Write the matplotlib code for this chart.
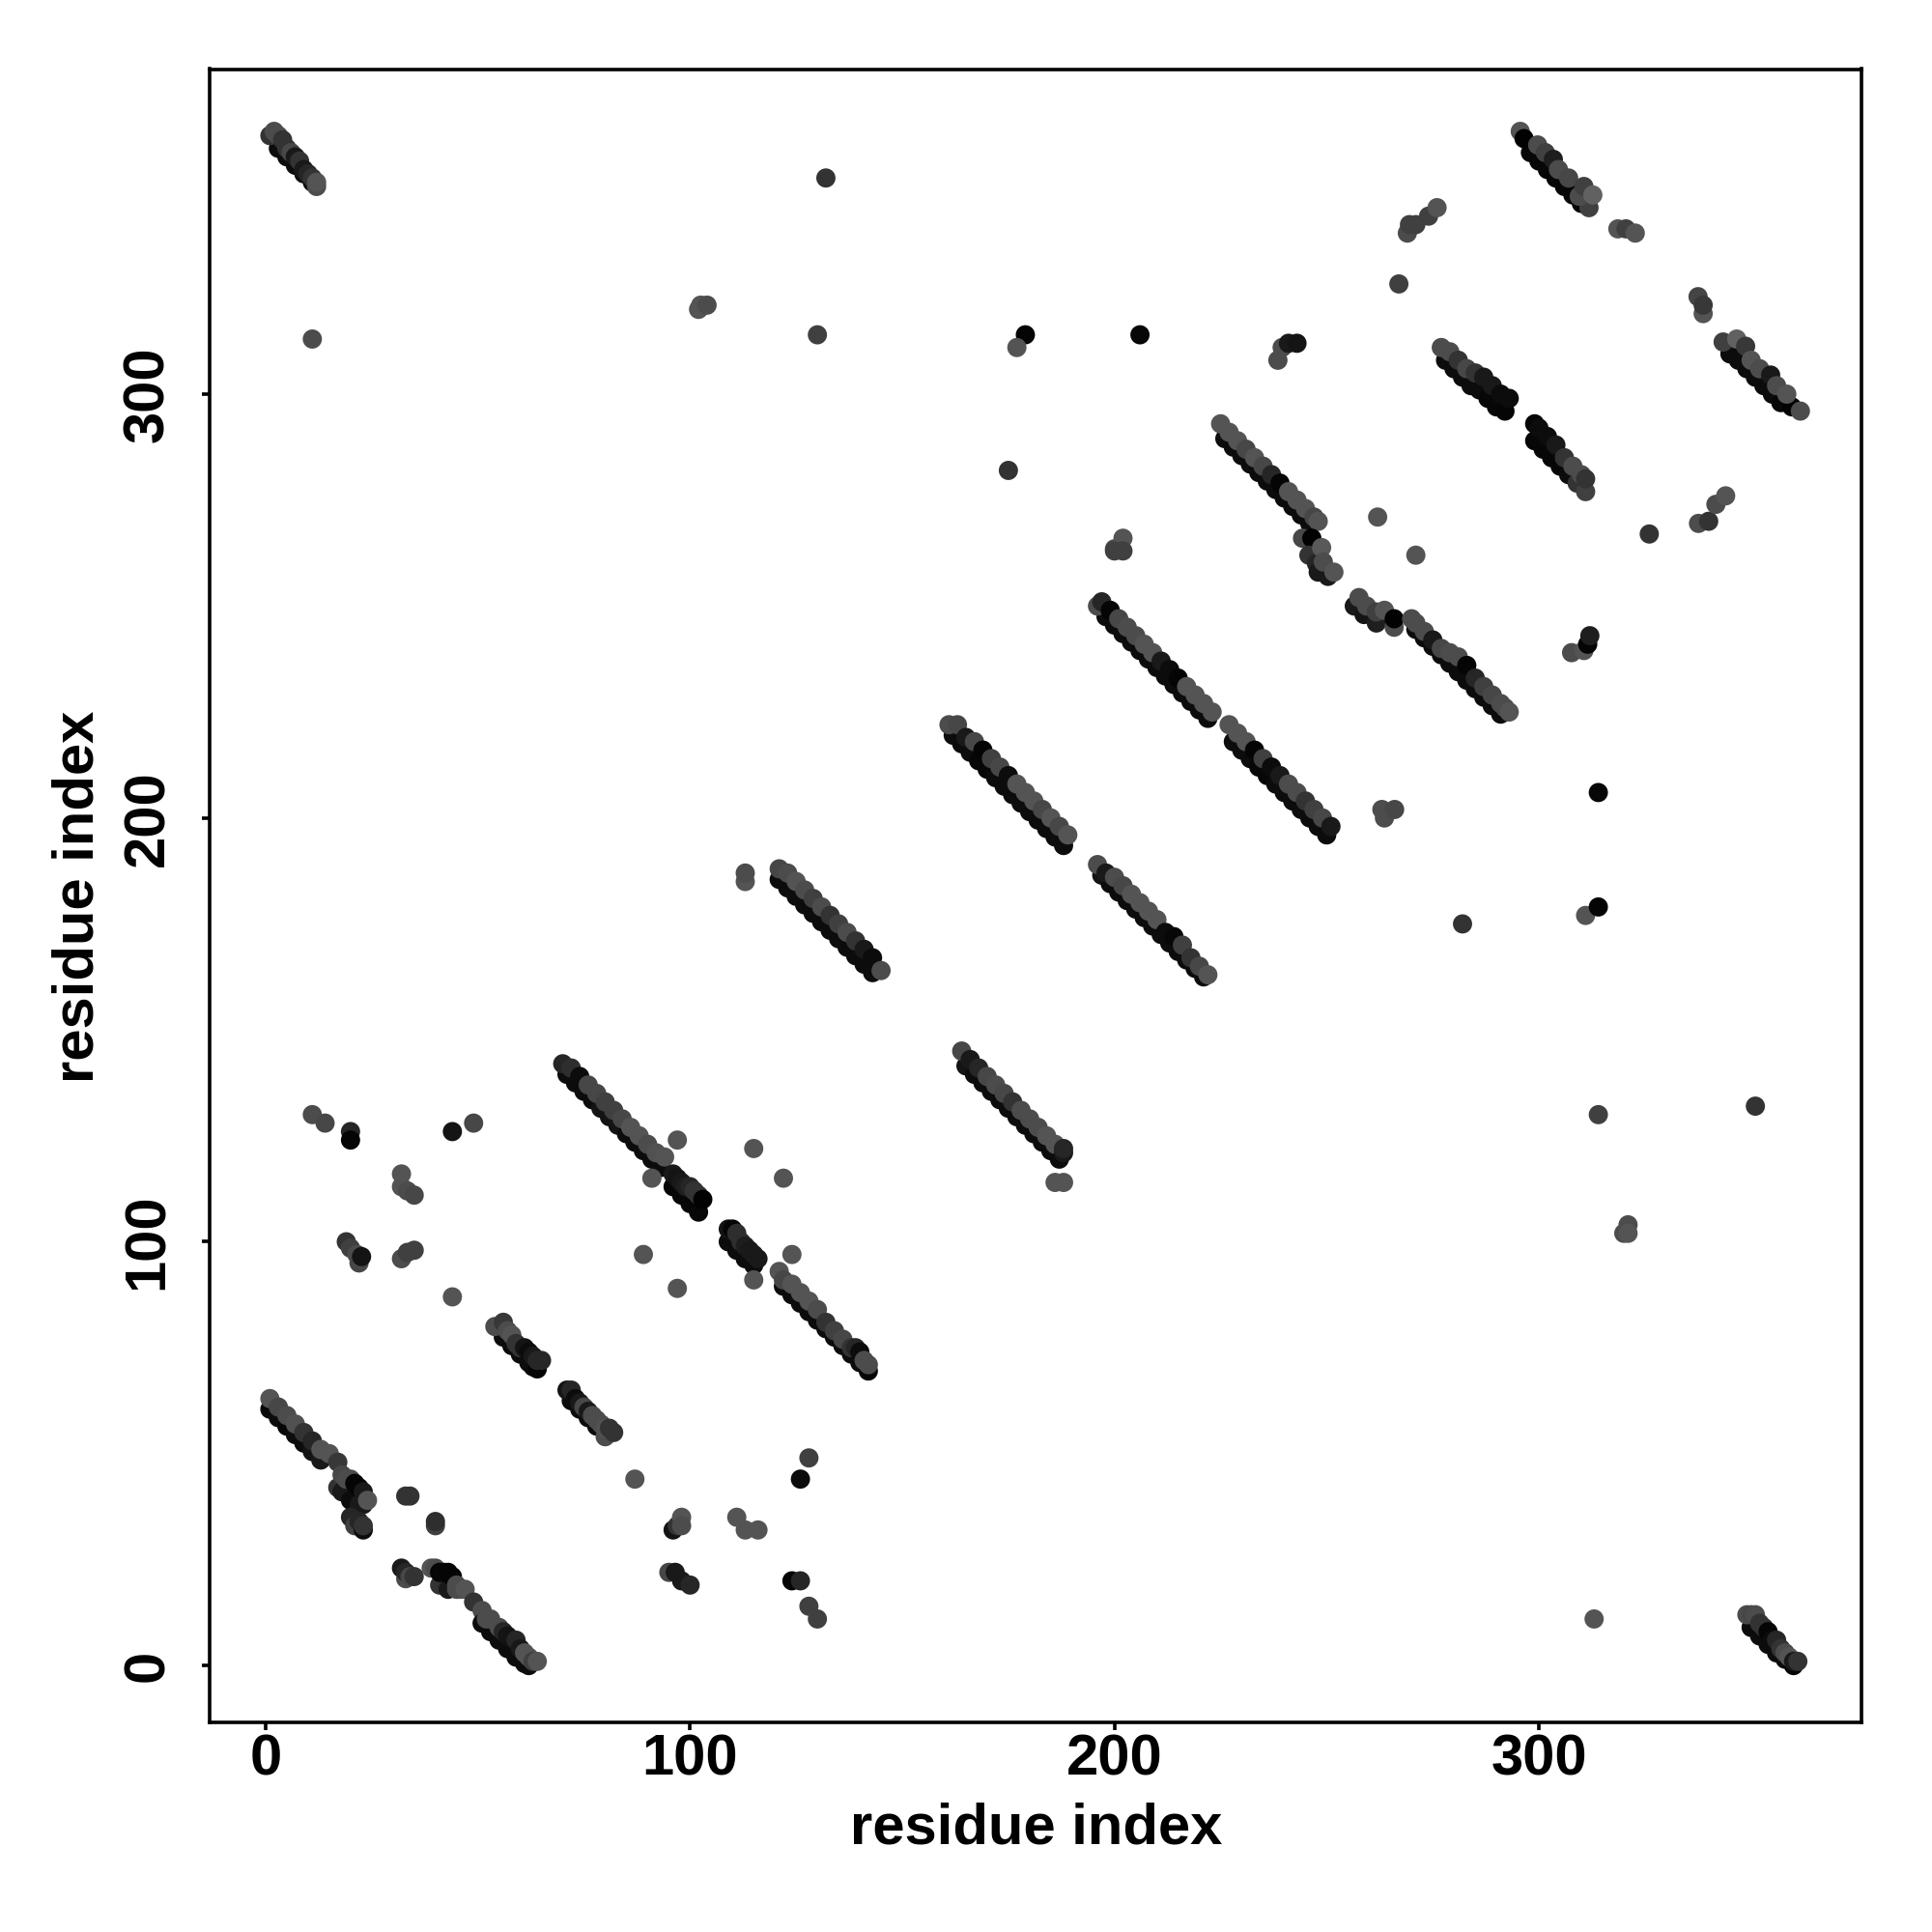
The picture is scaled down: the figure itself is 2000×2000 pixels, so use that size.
import matplotlib
matplotlib.use("Agg")
import matplotlib.pyplot as plt

# ---- tick labels / text
ticks = [0, 100, 200, 300]
xlabel_text = "residue index"
ylabel_text = "residue index"

# ---- contact bands: x, y, grey level (0 black), in drawing order
a1_x = [1,3,5,7,9,11,13, 1,3,5,7,9,11,13,15,17]
a1_y = [60.5,58.5,56.5,54.5,52.5,50.5,48.5, 63,61,59,57,55,53,51,50,48]
a1_g = [.03,.05,.03,.05,.05,.08,.1, .33,.28,.3,.32,.2,.15,.33,.33,.22]

a2_x = [17,18,19,20,21,22,23, 18,19,20,21,22,23,24]
a2_y = [42,41,41,39,38,38,38, 45,44,44,43,42,41,39]
a2_g = [.2,.1,.1,.05,.05,.1,.1, .28,.3,.3,.02,.02,.1,.33]

a3_x = [20,21,22,23,23,33,34,40,40]
a3_y = [35,33,34,32,33,40,40,33,34]
a3_g = [.15,.25,.15,.05,.2,.2,.2,.25,.18]

a4_x = [32,33,33,34,35]
a4_y = [23,20.5,22,21,21]
a4_g = [.1,.3,.15,.28,.2]

a5_x = [41,43,45, 39,40,41,42,43,44,45,46,47,49,51]
a5_y = [19,18,18, 23,23,22,22,22,21,19,18,18,15,13]
a5_g = [.2,.1,.3, .33,.3,.02,.03,.02,.02,.3,.3,.33,.2,.3]

a6_x = [51,53,55,57,59,61,62, 52,53,55,56,57,59,60,61,62,63,64]
a6_y = [10,8,6,4,2,0.5,0, 11,11,9,8,7,6,4,3,2,1,1]
a6_g = [.05,.05,.05,.05,.05,.05,.05, .3,.3,.3,.15,.08,.15,.1,.33,.33,.25,.33]

b_x = [56,58,60,62,63,64, 54,56,57,58,59,60,61,62,63,64,65]
b_y = [77.5,75.5,73.5,71.5,70.5,70, 80,81,79,78,76,75,75,74,73,72,72]
b_g = [.05,.05,.05,.05,.05,.02, .3,.22,.3,.33,.2,.2,.08,.05,.1,.15,.15]

c_x = [72,74,76,78,80, 71,72,73,74,75,76,77,78,79,80,81,82]
c_y = [62.5,60.5,58.5,56.5,54, 65,65,63,62,61,60,59,58,57,56,56,55]
c_g = [.05,.05,.05,.05,.3, .08,.15,.05,.1,.28,.1,.3,.3,.3,.32,.2,.2]

d_x = [71,73,75,77,79,81,83,85,87,89,91,93, 70,72,74,76,78,80,82,84,86,88,90,92,94]
d_y = [139.5,137.5,135.5,133.5,131.5,129.5,127.5,125.5,123.5,121.5,119.5,117.5, 142,141,139,137,135,133,131,129,127,125,123,121,120]
d_g = [.05,.05,.05,.05,.08,.08,.08,.05,.05,.05,.05,.05, .15,.18,.05,.28,.28,.25,.25,.28,.33,.33,.3,.32,.33]

e_x = [96,98,100,102, 96,97,98,99,100,101,102,103]
e_y = [113,111,109,107, 116,115,114,113,113,112,111,110]
e_g = [.03,.03,.03,.03, .1,.08,.1,.12,.15,.2,.2,.01]

f_x = [109,111,113,115, 109,110,111,112,113,114,115,116]
f_y = [100,98,96,94.5, 103,103,102,100,99,98,97,96]
f_g = [.05,.05,.05,.05, .08,.02,.18,.18,.12,.1,.1,.1]

g_x = [122,124,126,128,130,132,134,136,138,140,142, 121,122,124,126,128,130,132,134,136,138,139,140,141,142]
g_y = [89.5,87.5,85.5,83.5,81.5,79.5,77.5,75.5,73.5,71.5,69.5, 93,91,90,88,86,84,81,79,77,75,75,74,72,71]
g_g = [.05,.05,.05,.05,.05,.05,.05,.05,.05,.05,.03, .33,.28,.33,.33,.33,.3,.2,.25,.28,.2,.15,.05,.3,.3]

h_x = [121,123,125,127,129,131,133,135,137,139,141,143, 121,123,125,127,129,131,133,135,137,139,141,143,145, 113,113]
h_y = [185.5,183.5,181.5,179.5,177.5,175.5,173.5,171.5,169.5,167.5,165.5,163.5, 188,187,185,183,181,179,177,175,173,171,169,167,164, 185,187]
h_g = [.05,.05,.05,.05,.05,.05,.05,.05,.05,.05,.05,.05, .28,.3,.33,.3,.25,.3,.2,.25,.3,.2,.1,.05,.3, .33,.3]

i_x = [165,167,169,171,173,175,177,179,181,183,185,187, 164,166,168,170,172,174,176,178,180,182,184,186,188,188, 186,188]
i_y = [141.5,139.5,137.5,135.5,133.5,131.5,129.5,127.5,125.5,123.5,121.5,119.5, 145,143,141,139,137,135,133,131,129,127,125,123,121,122, 114,114]
i_g = [.08,.05,.05,.05,.05,.05,.05,.05,.05,.05,.05,.05, .28,.1,.15,.28,.3,.28,.2,.3,.3,.3,.33,.33,.1,.15, .33,.33]

j_x = [162,164,166,168,170,172,174,176,178,180,182,184,186,188, 161,163,165,167,169,171,173,175,177,179,181,183,185,187,189]
j_y = [219.5,217.5,215.5,213.5,211.5,209.5,207.5,205.5,203.5,201.5,199.5,197.5,195.5,193.5, 222,222,219,218,216,214,212,210,208,206,204,202,200,198,196]
j_g = [.05,.05,.05,.03,.03,.05,.05,.05,.05,.05,.05,.05,.05,.05, .3,.28,.1,.28,.02,.25,.28,.05,.33,.33,.33,.28,.33,.28,.33]

k_x = [197,199,201,203,205,207,209,211,213,215,217,219,221, 196,198,200,202,204,206,208,210,212,214,216,218,220,222]
k_y = [186.5,184.5,182.5,180.5,178.5,176.5,174.5,172.5,170.5,168.5,166.5,164.5,162.5, 189,187,186,184,182,180,178,176,173,172,170,167,165,163]
k_g = [.08,.05,.05,.05,.05,.05,.05,.05,.05,.05,.05,.05,.05, .3,.1,.3,.28,.33,.33,.33,.33,.05,.03,.25,.2,.28,.33]

l_x = [198,200,202,204,206,208,210,212,214,216,218,220,222, 196,197,199,201,203,205,207,209,211,213,215,217,219,221,223]
l_y = [247.5,245.5,243.5,241.5,239.5,237.5,235.5,233.5,231.5,229.5,227.5,225.5,223.5, 250,251,249,247,245,243,241,239,237,235,233,231,229,227,225]
l_g = [.05,.05,.05,.05,.05,.05,.05,.05,.05,.05,.05,.05,.05, .3,.15,.02,.28,.3,.3,.33,.33,.1,.05,.02,.33,.33,.33,.33]

m_x = [228,230,232,234,236,238,240,242,244,246,248,250, 227,229,231,233,235,237,239,241,243,245,247,249,251]
m_y = [218,216,214,212,210,208,206,204,202,200,198,196, 222,220,218,216,214,212,210,208,206,204,202,200,198]
m_g = [.05,.05,.05,.03,.03,.05,.05,.05,.05,.05,.05,.05, .33,.33,.33,.02,.25,.05,.1,.3,.3,.2,.25,.28,.1]

n_x = [226,228,230,232,234,236,238,240,242,244,246, 225,227,229,231,233,235,237,239,241,243,245,247,248]
n_y = [289.5,287.5,285.5,283.5,281.5,279.5,277.5,275.5,273.5,271.5,269.5, 293,291,289,287,285,283,281,279,277,275,273,271,270]
n_g = [.05,.05,.05,.05,.05,.05,.05,.05,.05,.05,.05, .33,.33,.33,.28,.33,.28,.15,.02,.33,.33,.33,.28,.33]

n2_x = [244.3,246.5,245.8,247.6,250.3,248,248.8,249.2,251.7]
n2_y = [266,266,262,260,257,258,263.8,260.4,258]
n2_g = [.28,.01,.2,.15,.1,.1,.35,.3,.33]

o1_x = [256.5,258.8,257.6,259.4,261.7,261.7,263.6,265.9,265.9]
o1_y = [250,248,252,250,246,248.6,249,245,247]
o1_g = [.1,.08,.3,.3,.12,.25,.33,.3,.01]

o2_x = [271,273,275,277,279,281,283,285,287,289,291, 270,271,273,275,277,279,281,283,285,287,289,291,292,293]
o2_y = [244.5,242.5,240.5,238.5,236.5,234.5,232.5,230.5,228.5,226.5,224.5, 247,246,244,242,240,239,238,236,233,231,229,227,226,225]
o2_g = [.05,.05,.05,.05,.05,.05,.05,.05,.05,.05,.05, .3,.3,.3,.1,.28,.3,.3,.02,.15,.25,.28,.3,.3,.33]

p1_x = [278,280,282,284,286,288,290,292, 277,279,281,283,285,287,289,291,293]
p1_y = [308,306,304,302,301,299,297,296, 311,310,308,306,305,304,302,300,299]
p1_g = [.05,.05,.05,.05,.05,.03,.03,.02, .3,.3,.2,.28,.2,.1,.1,.05,.05]

p2_x = [299,301,303,305,307,309,311, 299,300,302,304,306,308,310,311]
p2_y = [289,287,285,283,281,279,277, 293,292,290,288,285,283,281,280]
p2_g = [.03,.03,.03,.03,.05,.2,.25, .02,.05,.05,.1,.2,.3,.3,.2]

q_x = [298,300,302,304,306,308,310,311.8, 295.6,296.5,299.7,301.5,303.4,304.6,307,309.5,310.6,312.7, 318.6,320.5,322.7]
q_y = [357,355,353,351,349,347,345,344, 362,360.3,358.8,357,355.4,353,351,346.7,349,347, 339,339,338]
q_g = [.03,.03,.03,.03,.03,.03,.03,.25, .33,.01,.3,.25,.12,.3,.28,.3,.25,.38, .33,.25,.33]

r_x = [345,347,349,351,353,355,357,359.6, 343.4,346.6,348.7,350,352,354.6,356,358.4,361.6]
r_y = [309.5,308,306,304,302,300,298,297, 312.3,313,311.3,308,306,304.5,302,300,296]
r_g = [.05,.05,.05,.05,.05,.05,.03,.01, .25,.38,.22,.33,.3,.1,.3,.33,.3]

s_x = [3,5,7,9,11, 1,2,3,4,5,6,7,8,9,10,11,12,12]
s_y = [358,356,354,352,350, 361,362,361,360,358,357,356,355,353,352,351,349,350]
s_g = [.05,.05,.05,.05,.05, .2,.3,.3,.2,.2,.28,.1,.2,.1,.15,.2,.3,.33]

t_x = [350,352,354,356,358,360, 349,350,351,352,353,354,355,356,357,358,359,360,361]
t_y = [9,7,5,3,1.5,0, 12,12,12,10,9,8,6,6,4,3,2,1,1]
t_g = [.05,.05,.05,.05,.05,.02, .3,.28,.3,.2,.2,.02,.05,.15,.2,.3,.33,.1,.2]

# ---- isolated contacts
lone_x = [11,132,130,102,102.5,104,179,177,206,175,200,202,202,200,238.5,239.5,241,243,
          262,271,267,269,269.5,271,274,276,326,337.6,340,341.7,344,307.7,310.6,311.5,312,
          263,263.6,266,314,282,311,314,314,351,321,320,321,313,
          11,14,20,20,44,49,32,32,33.4,35,19,20,21.5,22,22.6,32,33.4,35,
          44,89,97,91,97,115,122,124,115,87,128,126,
          96,97,98,98,111,113,116,95,96.5,98,100,124,126,128,130,337.5,338.7,338.7]
lone_y = [313,351,314,320,321,321,314,311,314,282,263.5,266,263,263,308,311,312,312,
          271,262,326,338,340,340,342,344,267,269.5,270,274,276,239,239.5,241,243,
          202,200,202,206,175,177,179,130,132,104,102,102,11,
          130,128,126,124,126,128,116,113,112,111,100,98.5,97,95,96.5,96,97.5,98,
          87,97,89,115,124,122,115,97,91,44,49,44,
          32,33,35,33,35,32,32,22,22,20,19,20,20,14,11,323,319,321]
lone_g = [.3,.2,.25,.33,.33,.3,.02,.33,.03,.2,.3,.33,.25,.25,.3,.3,.1,.08,
          .33,.33,.25,.3,.25,.25,.25,.33,.2,.3,.2,.3,.33,.3,.33,.02,.12,
          .3,.3,.28,.03,.2,.33,.02,.25,.2,.3,.3,.33,.33,
          .3,.28,.15,.02,.08,.28,.33,.33,.3,.28,.2,.25,.3,.28,.08,.3,.25,.25,
          .33,.33,.33,.33,.33,.33,.33,.33,.33,.33,.25,.05,
          .08,.2,.33,.3,.33,.33,.33,.28,.1,.1,.15,.02,.15,.25,.25,.27,.33,.22]

bands = [(a1_x,a1_y,a1_g),(a2_x,a2_y,a2_g),(a3_x,a3_y,a3_g),(a4_x,a4_y,a4_g),(a5_x,a5_y,a5_g),
         (a6_x,a6_y,a6_g),(b_x,b_y,b_g),(c_x,c_y,c_g),(d_x,d_y,d_g),(e_x,e_y,e_g),(f_x,f_y,f_g),
         (g_x,g_y,g_g),(h_x,h_y,h_g),(i_x,i_y,i_g),(j_x,j_y,j_g),(k_x,k_y,k_g),(l_x,l_y,l_g),
         (m_x,m_y,m_g),(n_x,n_y,n_g),(n2_x,n2_y,n2_g),(o1_x,o1_y,o1_g),(o2_x,o2_y,o2_g),
         (p1_x,p1_y,p1_g),(p2_x,p2_y,p2_g),(q_x,q_y,q_g),(r_x,r_y,r_g),(s_x,s_y,s_g),(t_x,t_y,t_g),
         (lone_x,lone_y,lone_g)]

plt.rcParams['font.family'] = ['Liberation Sans']
plt.rcParams['font.weight'] = 'bold'

fig = plt.figure(figsize=(20, 20), dpi=100, facecolor='white')
ax = fig.add_axes([217/2000, 1-1783/2000, (1927-217)/2000, (1783-71.5)/2000])

for xs, ys, gs in bands:
    ax.scatter(xs, ys, c=gs, cmap='gray', vmin=0, vmax=1, s=205, linewidths=0, clip_on=True)

ax.set_xlim(-13.2, 376)
ax.set_ylim(-13.4, 376.7)
ax.set_xticks(ticks)
ax.set_yticks(ticks)
ax.set_xticklabels([str(t) for t in ticks], fontsize=43, fontweight='bold')
ax.set_yticklabels([str(t) for t in ticks], fontsize=43, fontweight='bold', rotation=90, va='center')
ax.tick_params(axis='both', length=6, width=2.6, direction='out', color='black')
ax.tick_params(axis='x', pad=2)
ax.tick_params(axis='y', pad=20)
for sp in ax.spines.values():
    sp.set_linewidth(2.6)

fig.text(1073/2000, 1-1893/2000, xlabel_text, fontsize=43, fontweight='bold', ha='center', va='center')
fig.text(81/2000, 1-928/2000, ylabel_text, fontsize=43, fontweight='bold', ha='center', va='center', rotation=90)

fig.savefig('out.png', dpi=100, facecolor='white')
